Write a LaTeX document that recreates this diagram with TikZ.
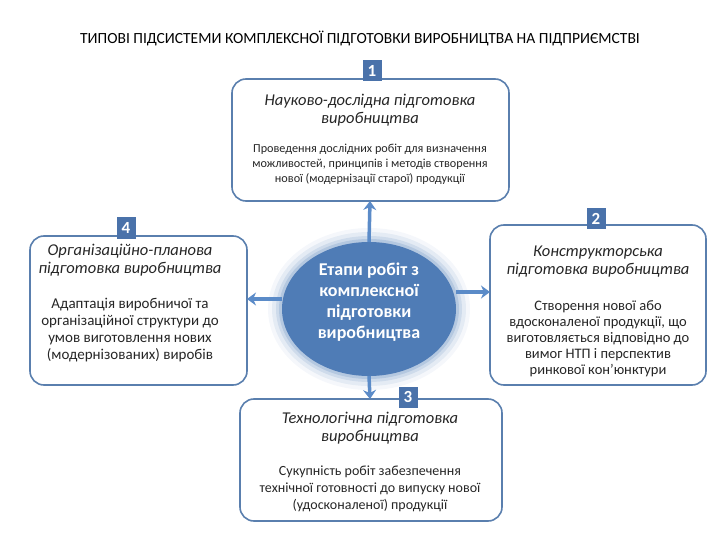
\documentclass[tikz,border=0pt]{standalone}
\usepackage{fontspec}
\setmainfont{Carlito}
\usetikzlibrary{arrows.meta}
\definecolor{bord}{HTML}{5A7FAE}
\definecolor{badge}{HTML}{4A72AA}
\definecolor{ell}{HTML}{4F7CB6}
\definecolor{arr}{HTML}{5B8BC8}
\begin{document}
\begin{tikzpicture}[x=1pt,y=-1pt,
  box/.style={draw=bord,line width=1.6pt,rounded corners=14pt,fill=white},
  badgebox/.style={fill=badge,text=white,font=\bfseries\fontsize{17}{17}\selectfont,minimum width=19pt,minimum height=21pt,inner sep=0pt},
  hd/.style={font=\itshape\fontsize{16.5}{18}\selectfont,align=center,text=black!85},
  bd/.style={font=\fontsize{14.5}{16}\selectfont,align=center,text=black!85},
  con/.style={draw=arr,line width=3.5pt,-{Stealth[length=9pt,width=13pt]}}]
\useasboundingbox (0,0) rectangle (720,540);
\node[font=\fontsize{15.5}{17}\selectfont] (title) at (360,38) {ТИПОВІ ПІДСИСТЕМИ КОМПЛЕКСНОЇ ПІДГОТОВКИ ВИРОБНИЦТВА НА ПІДПРИЄМСТВІ};
% boxes
\draw[box] (232,79) rectangle (509,201);
\coordinate (b1) at (370,201);
\draw[box] (30,236) rectangle (247,385);
\coordinate (b4) at (247,299);
\draw[box] (490,225) rectangle (706,385);
\coordinate (b2) at (490,292);
\coordinate (b3) at (370,399);
\draw[box] (240,399) rectangle (502,521);
% glow ellipse
\foreach \r/\o in {14/0.06,10/0.1,6/0.15,3/0.2}{
  \fill[ell,opacity=\o] (369,309) ellipse ({87+\r} and {67+\r});}
\fill[ell] (369,309) ellipse (87 and 67);
\node[text=white,font=\bfseries\fontsize{18}{21}\selectfont,align=center] (ct) at (369,302) {Етапи робіт з\\комплексної\\підготовки\\виробництва};
\coordinate (cn) at (369,242);
\coordinate (cs) at (369,376);
\coordinate (cw) at (282,299);
\coordinate (ce) at (456,292);
\draw[con] (cn) -- (b1);
\draw[con] (cs) -- (b3);
\draw[con] (cw) -- (b4);
\draw[con] (ce) -- (b2);
% badges
\node[badgebox] (n1) at (372,71) {1};
\node[badgebox] (n2) at (596,219) {2};
\node[badgebox] (n3) at (408,397) {3};
\node[badgebox] (n4) at (126,228) {4};
% texts
\node[hd] (h1) at (370,110) {Науково-дослідна підготовка\\виробництва};
\node[bd,font=\fontsize{12.2}{15}\selectfont] (t1) at (370,164) {Проведення дослідних робіт для визначення\\можливостей, принципів і методів створення\\нової (модернізації старої) продукції};
\node[hd] (h4) at (130,260) {Організаційно-планова\\підготовка виробництва};
\node[bd,font=\fontsize{15}{17}\selectfont] (t4) at (130,330) {Адаптація виробничої та\\організаційної структури до\\умов виготовлення нових\\(модернізованих) виробів};
\node[hd] (h2) at (598,262) {Конструкторська\\підготовка виробництва};
\node[bd] (t2) at (598,339) {Створення нової або\\вдосконаленої продукції, що\\виготовляється відповідно до\\вимог НТП і перспектив\\ринкової кон’юнктури};
\node[hd] (h3) at (370,428) {Технологічна підготовка\\виробництва};
\node[bd,font=\fontsize{14}{17}\selectfont] (t3) at (370,489) {Сукупність робіт забезпечення\\технічної готовності до випуску нової\\(удосконаленої) продукції};
\end{tikzpicture}
\end{document}
